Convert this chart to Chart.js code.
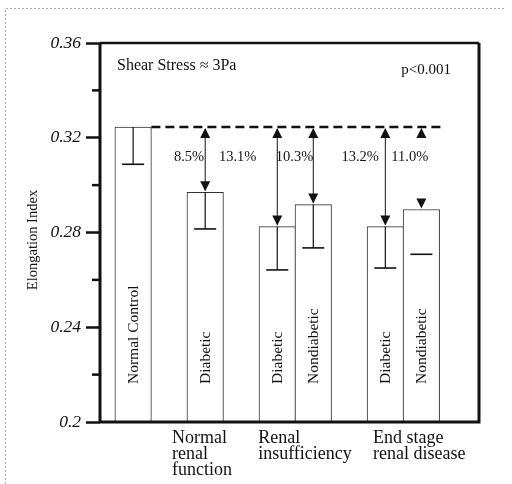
<!DOCTYPE html>
<html><head><meta charset="utf-8">
<script src="https://cdn.jsdelivr.net/npm/chart.js@4/dist/chart.umd.min.js"></script>
<style>html,body{margin:0;padding:0;background:#fff}#wrap{width:512px;height:484px;position:relative}</style>
</head><body><div id="wrap"><canvas id="c" width="512" height="484"></canvas></div>
<script>
// ---- data ----
const barLabels = ['Normal Control', 'Diabetic', 'Diabetic', 'Nondiabetic', 'Diabetic', 'Nondiabetic'];
const barSlots = [1, 3, 5, 6, 8, 9];
const meanValues = [0.3245, 0.2970, 0.2825, 0.2918, 0.2825, 0.2897];
const sdValues = [0.0157, 0.0155, 0.0183, 0.0183, 0.0175, 0.0189];
const reductionLabels = [null, '8.5%', '13.1%', '10.3%', '13.2%', '11.0%'];
const groupLabels = [['Normal', 'renal', 'function'], ['Renal', 'insufficiency'], ['End stage', 'renal disease']];
const yTicks = [0.2, 0.24, 0.28, 0.32, 0.36];
const yMinorTicks = [0.22, 0.26, 0.30, 0.34];
const yTitle = 'Elongation Index';
const noteLeft = 'Shear Stress \u2248 3Pa';
const noteRight = 'p<0.001';

// ---- layout helpers (positions in x-scale units) ----
const groupLabelAt = [2.08, 4.47, 7.66];
const reductionLabelAt = [null, 2.55, 3.90, 5.48, 7.30, 8.68];
const stemShown = [true, true, true, true, true, false];

const SERIF = '"Liberation Serif", "Times New Roman", serif';
const INK = '#111';

const extras = {
  id: 'extras',
  beforeDraw(chart) {
    const ctx = chart.ctx;
    ctx.save();
    ctx.strokeStyle = '#aaa';
    ctx.lineWidth = 1;
    ctx.setLineDash([2, 2]);
    ctx.beginPath();
    ctx.moveTo(5.5, 484); ctx.lineTo(5.5, 8.5); ctx.lineTo(506, 8.5);
    ctx.stroke();
    ctx.restore();
  },
  afterDatasetsDraw(chart) {
    const ctx = chart.ctx;
    const xs = chart.scales.x, ys = chart.scales.y;
    const a = chart.chartArea;
    const half = 18.25;
    ctx.save();
    ctx.strokeStyle = INK; ctx.fillStyle = INK;

    // frame
    ctx.lineWidth = 3;
    ctx.beginPath();
    ctx.moveTo(a.left, ys.getPixelForValue(0.2)); ctx.lineTo(a.left, ys.getPixelForValue(0.36));
    ctx.stroke();
    ctx.lineWidth = 2.5;
    ctx.beginPath();
    ctx.moveTo(a.left, ys.getPixelForValue(0.36)); ctx.lineTo(a.right, ys.getPixelForValue(0.36));
    ctx.stroke();
    ctx.lineWidth = 3;
    ctx.beginPath();
    ctx.moveTo(a.right, ys.getPixelForValue(0.36)); ctx.lineTo(a.right, ys.getPixelForValue(0.2));
    ctx.lineTo(a.left, ys.getPixelForValue(0.2));
    ctx.stroke();

    // minor ticks
    ctx.lineWidth = 2.5;
    yMinorTicks.forEach(v => {
      const y = ys.getPixelForValue(v);
      ctx.beginPath(); ctx.moveTo(a.left - 8, y); ctx.lineTo(a.left, y); ctx.stroke();
    });

    // dashed reference line at control mean
    const yc = ys.getPixelForValue(meanValues[0]);
    ctx.lineWidth = 2.5;
    ctx.setLineDash([9, 5]);
    ctx.beginPath();
    ctx.moveTo(xs.getPixelForValue(barSlots[0]) + half, yc);
    ctx.lineTo(xs.getPixelForValue(barSlots[barSlots.length - 1]) + half + 4, yc);
    ctx.stroke();
    ctx.setLineDash([]);

    // error bars (one-sided, downward)
    ctx.lineWidth = 1.2;
    meanValues.forEach((m, i) => {
      const x = xs.getPixelForValue(barSlots[i]);
      const yt = ys.getPixelForValue(m), yb = ys.getPixelForValue(m - sdValues[i]);
      if (stemShown[i]) {
        ctx.beginPath(); ctx.moveTo(x, yt); ctx.lineTo(x, yb); ctx.stroke();
      }
      ctx.lineWidth = 1.6;
      ctx.beginPath(); ctx.moveTo(x - 11, yb); ctx.lineTo(x + 11, yb); ctx.stroke();
      ctx.lineWidth = 1.2;
    });

    // arrows from control level to each bar
    const head = (x, y, dir) => {
      ctx.beginPath();
      ctx.moveTo(x, y);
      ctx.lineTo(x - 5, y - dir * 10);
      ctx.lineTo(x + 5, y - dir * 10);
      ctx.closePath(); ctx.fill();
    };
    for (let i = 1; i < meanValues.length; i++) {
      const x = xs.getPixelForValue(barSlots[i]);
      const yt = ys.getPixelForValue(meanValues[i]);
      if (stemShown[i]) {
        ctx.lineWidth = 1;
        ctx.beginPath(); ctx.moveTo(x, yc + 2); ctx.lineTo(x, yt - 2); ctx.stroke();
      }
      head(x, yc + 1, -1);
      head(x, yt - 1, 1);
    }

    // reduction labels
    ctx.font = '14.5px ' + SERIF;
    ctx.textAlign = 'center'; ctx.textBaseline = 'alphabetic';
    for (let i = 1; i < reductionLabels.length; i++) {
      ctx.fillText(reductionLabels[i], xs.getPixelForValue(reductionLabelAt[i]), yc + 34);
    }

    // bar labels (rotated)
    ctx.font = '15.5px ' + SERIF;
    ctx.textAlign = 'left'; ctx.textBaseline = 'middle';
    barLabels.forEach((t, i) => {
      ctx.save();
      ctx.translate(xs.getPixelForValue(barSlots[i]) + 1, ys.getPixelForValue(0.2) - 38);
      ctx.rotate(-Math.PI / 2);
      ctx.fillText(t, 0, 0);
      ctx.restore();
    });

    // notes
    ctx.font = '16px ' + SERIF;
    ctx.textAlign = 'left'; ctx.textBaseline = 'alphabetic';
    ctx.fillText(noteLeft, a.left + 17, a.top + 27);
    ctx.font = '15px ' + SERIF;
    ctx.textAlign = 'right';
    ctx.fillText(noteRight, a.right - 28, a.top + 31);

    // group labels under the axis
    ctx.font = '18px ' + SERIF;
    ctx.textAlign = 'left';
    groupLabels.forEach((lines, g) => {
      const x = xs.getPixelForValue(groupLabelAt[g]);
      lines.forEach((ln, k) => ctx.fillText(ln, x, a.bottom + 21 + k * 16));
    });

    // y axis title
    ctx.font = '14.5px ' + SERIF;
    ctx.textAlign = 'center'; ctx.textBaseline = 'middle';
    ctx.save();
    ctx.translate(33, 240);
    ctx.rotate(-Math.PI / 2);
    ctx.fillText(yTitle, 0, 0);
    ctx.restore();

    ctx.restore();
  }
};

new Chart(document.getElementById('c'), {
  type: 'bar',
  data: {
    datasets: [{
      data: barSlots.map((s, i) => ({ x: s, y: meanValues[i] })),
      backgroundColor: '#fff',
      borderColor: '#333',
      borderWidth: 1,
      barThickness: 36.5
    }]
  },
  options: {
    responsive: false,
    animation: false,
    devicePixelRatio: 1,
    layout: { padding: { top: 43, right: 33, left: 0, bottom: 62 } },
    plugins: { legend: { display: false }, tooltip: { enabled: false } },
    scales: {
      x: { type: 'linear', min: 0.08, max: 10.6, offset: false, display: false },
      y: {
        min: 0.2, max: 0.36,
        afterBuildTicks: s => { s.ticks = yTicks.map(v => ({ value: v })); },
        afterFit: s => { s.width = 100; },
        ticks: {
          callback: v => String(+(+v).toFixed(2)),
          font: { family: SERIF, size: 17.5, style: 'italic' },
          color: INK,
          padding: 5
        },
        grid: { drawOnChartArea: false, tickLength: 14, tickWidth: 2.5, tickColor: INK },
        border: { display: false }
      }
    }
  },
  plugins: [extras]
});
</script>
</body></html>
